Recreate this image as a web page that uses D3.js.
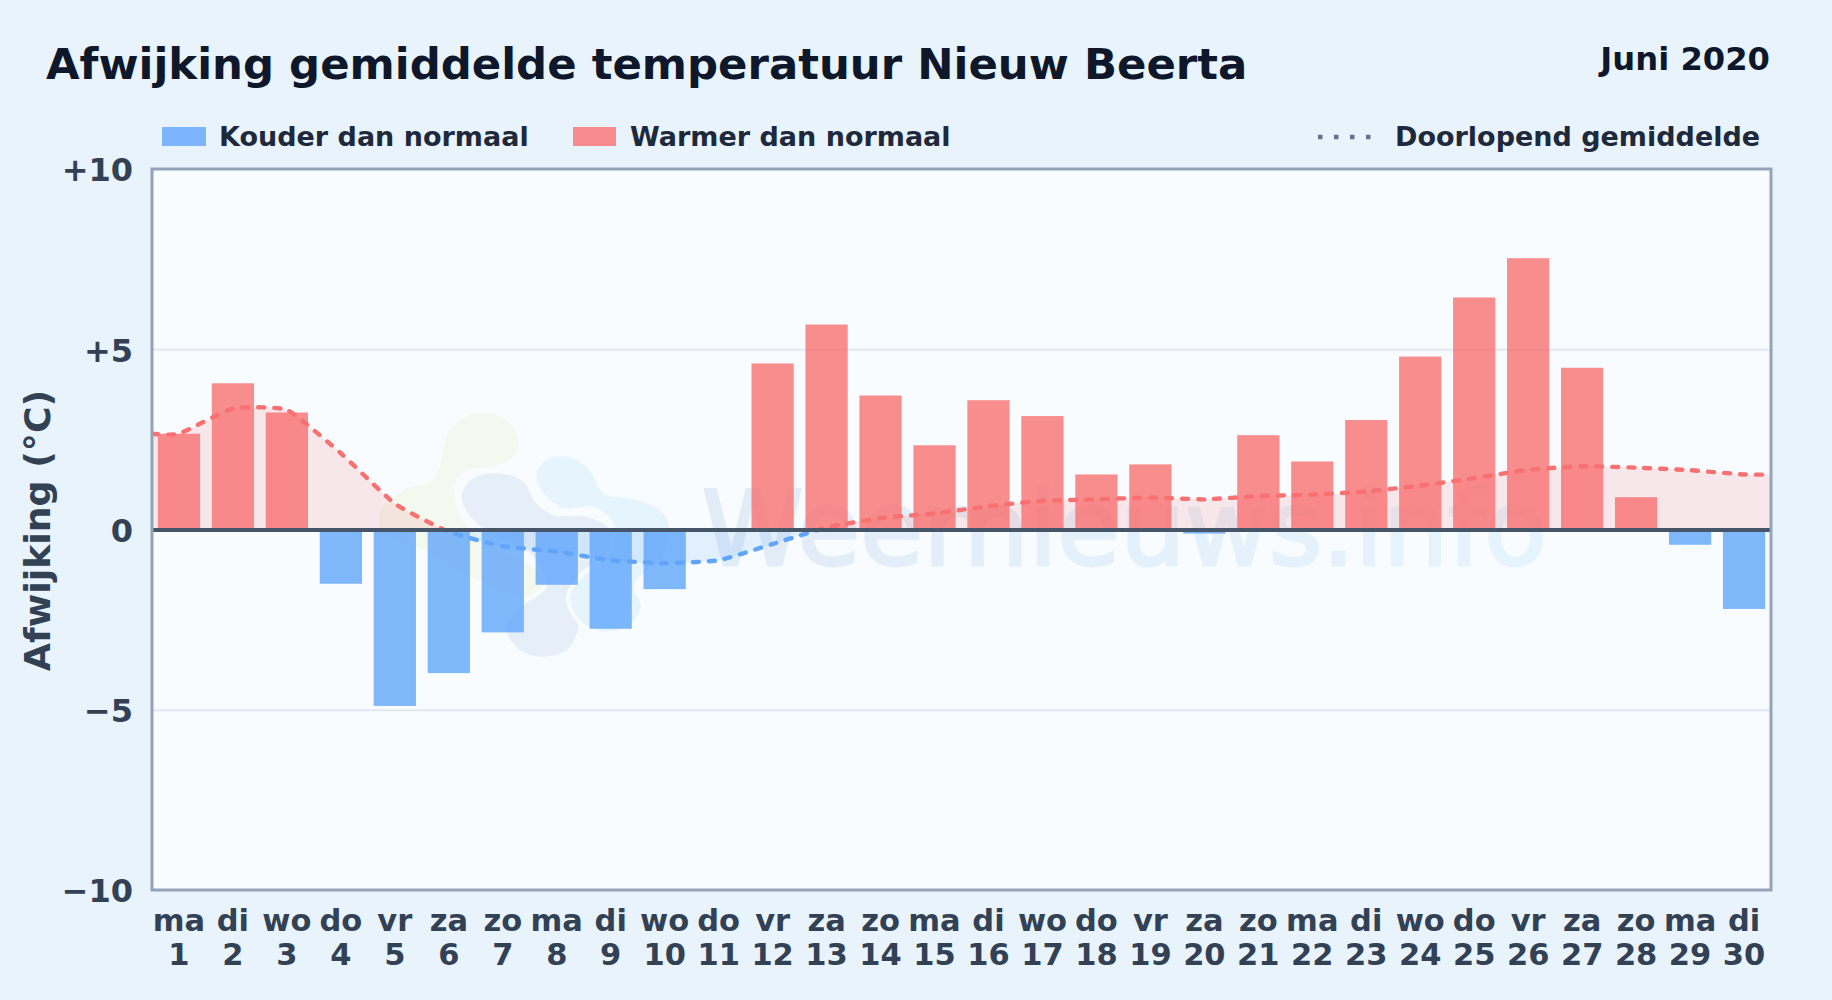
<!DOCTYPE html>
<html><head><meta charset="utf-8">
<script src="https://cdn.jsdelivr.net/npm/d3@7"></script>
<style>
html,body{margin:0;padding:0;background:#e8f3fc}
svg{display:block}
text{font-family:"DejaVu Sans",sans-serif;font-weight:700}
</style></head><body>
<svg id="c" width="1832" height="1000"></svg>
<script>
const weekdays=["ma","di","wo","do","vr","za","zo","ma","di","wo","do","vr","za","zo","ma","di","wo","do","vr","za","zo","ma","di","wo","do","vr","za","zo","ma","di"];
const days=[1,2,3,4,5,6,7,8,9,10,11,12,13,14,15,16,17,18,19,20,21,22,23,24,25,26,27,28,29,30];
const deviations=[2.67,4.07,3.26,-1.49,-4.88,-3.97,-2.84,-1.52,-2.74,-1.64,0,4.62,5.70,3.73,2.35,3.60,3.16,1.54,1.82,-0.10,2.63,1.90,3.05,4.81,6.45,7.54,4.50,0.91,-0.41,-2.19];
const runningMean=[2.67,3.37,3.33,2.13,0.73,-0.05,-0.45,-0.60,-0.84,-0.92,-0.84,-0.39,0.07,0.33,0.46,0.66,0.81,0.85,0.90,0.85,0.94,0.98,1.07,1.23,1.44,1.67,1.77,1.73,1.66,1.54];
const yTicks=[10,5,0,-5,-10];
const yTickLabels=["+10","+5","0","\u22125","\u221210"];
const gridValues=[5,-5];
const titleText="Afwijking gemiddelde temperatuur Nieuw Beerta";
const periodText="Juni 2020";
const yLabel="Afwijking (\u00b0C)";
const legendCold="Kouder dan normaal";
const legendWarm="Warmer dan normaal";
const legendMean="Doorlopend gemiddelde";

const C={bg:"#e8f3fc",plot:"#f8fcff",border:"#94a3b8",grid:"#e2e8f0",zero:"#475569",red:"#f87171",blue:"#60a5fa",tick:"#334155",legend:"#1e293b",title:"#0f172a",dots:"#64748b"};
const L=152,R=1771,T=169,B=890;
const svg=d3.select("#c");
svg.append("rect").attr("width",1832).attr("height",1000).attr("fill",C.bg);

const x=d3.scaleBand().domain(days).range([L,R]).paddingInner(.217).paddingOuter(.108);
const y=d3.scaleLinear().domain([-10,10]).range([B+.5,T+.5]);
const cx=d=>x(d)+x.bandwidth()/2;

// plot background
svg.append("rect").attr("x",L).attr("y",T).attr("width",R-L).attr("height",B-T).attr("fill",C.plot);

// watermark
const defs=svg.append("defs");
const grad=defs.append("linearGradient").attr("id","wm").attr("gradientUnits","userSpaceOnUse").attr("x1",702).attr("x2",1547).attr("y1",0).attr("y2",0);
grad.append("stop").attr("offset",0).attr("stop-color","#e2ecf6");
grad.append("stop").attr("offset",1).attr("stop-color","#e6f4fe");
const blobGreen=[[265,130],[310,85],[380,68],[445,95],[475,160],[455,205],[390,232],[320,240],[285,280],[300,380],[400,470],[500,520],[590,590],[500,625],[400,590],[280,530],[170,470],[70,430],[60,370],[130,300],[220,270]];
const blobGray=[[305,320],[340,265],[420,250],[490,275],[525,335],[580,375],[680,380],[750,420],[735,490],[650,560],[635,620],[655,710],[620,780],[545,800],[480,780],[440,720],[470,660],[560,590],[520,500],[420,440],[340,390]];
const blobLight=[[530,250],[570,205],[640,205],[695,250],[730,310],[830,330],[900,360],[930,420],[900,510],[840,560],[820,590],[842,650],[800,710],[720,722],[660,690],[630,620],[665,565],[760,480],[760,400],[700,350],[620,355],[560,320]];
const blob=d3.line().curve(d3.curveCatmullRomClosed);
const wm=svg.append("g").attr("transform","translate(360,390) scale(.3333)");
[[blobGreen,"#f3f9ee"],[blobGray,"#e6eff8"],[blobLight,"#e6f4fe"]].forEach(([p,c])=>{
  wm.append("path").attr("d",blob(p)).attr("fill",c).attr("stroke",C.plot).attr("stroke-width",24).attr("paint-order","stroke");
});
svg.append("text").attr("x",702).attr("y",565).attr("font-size",104).style("font-weight",400)
  .attr("textLength",845).attr("lengthAdjust","spacingAndGlyphs").attr("fill","url(#wm)").attr("stroke","url(#wm)").attr("stroke-width",3).text("Weernieuws.info");

// gridlines
svg.append("g").selectAll("line").data(gridValues).join("line")
  .attr("x1",L).attr("x2",R).attr("y1",d=>y(d)).attr("y2",d=>y(d)).attr("stroke",C.grid).attr("stroke-width",2);

// running mean area and clip
defs.append("clipPath").attr("id","above").append("rect").attr("x",L).attr("y",T).attr("width",R-L).attr("height",y(0)-T);
defs.append("clipPath").attr("id","below").append("rect").attr("x",L).attr("y",y(0)).attr("width",R-L).attr("height",B-y(0));
const meanPts=[[L,runningMean[0]],...days.map((d,i)=>[cx(d),runningMean[i]]),[R,runningMean[runningMean.length-1]]];
const meanCurve=d3.curveCardinal.tension(.55);
const area=d3.area().x(d=>d[0]).y0(y(0)).y1(d=>y(d[1])).curve(meanCurve);
const line=d3.line().x(d=>d[0]).y(d=>y(d[1])).curve(meanCurve);
svg.append("path").attr("d",area(meanPts)).attr("fill",C.red).attr("fill-opacity",.15).attr("clip-path","url(#above)");
svg.append("path").attr("d",area(meanPts)).attr("fill",C.blue).attr("fill-opacity",.15).attr("clip-path","url(#below)");

// bars
svg.append("g").selectAll("rect").data(days.map((d,i)=>({d,v:deviations[i]}))).join("rect")
  .attr("x",d=>x(d.d)).attr("width",x.bandwidth())
  .attr("y",d=>y(Math.max(0,d.v))).attr("height",d=>Math.abs(y(d.v)-y(0)))
  .attr("fill",d=>d.v>=0?C.red:C.blue).attr("fill-opacity",.8);

// running mean line
[["above",C.red],["below",C.blue]].forEach(([id,c])=>{
  svg.append("path").attr("d",line(meanPts)).attr("fill","none").attr("stroke",c).attr("stroke-width",4.4)
    .attr("stroke-dasharray","6 10").attr("stroke-linecap","round").attr("clip-path",`url(#${id})`);
});

// zero line and frame
svg.append("line").attr("x1",L).attr("x2",R).attr("y1",y(0)).attr("y2",y(0)).attr("stroke",C.zero).attr("stroke-width",4);
svg.append("rect").attr("x",L).attr("y",T).attr("width",R-L).attr("height",B-T).attr("fill","none").attr("stroke",C.border).attr("stroke-width",3);

// axes
const yAxis=svg.append("g").attr("transform",`translate(${L},1)`)
  .call(d3.axisLeft(y).tickValues(yTicks).tickSize(0).tickPadding(19).tickFormat((d,i)=>yTickLabels[i]));
yAxis.select(".domain").remove();
yAxis.selectAll("text").attr("font-size",32).attr("fill",C.tick).style("font-family",'"DejaVu Sans"').style("font-weight",700);
const xAxis=svg.append("g").attr("transform",`translate(0,${B})`)
  .call(d3.axisBottom(x).tickSize(0).tickFormat(()=>""));
xAxis.select(".domain").remove();
xAxis.selectAll("text").each(function(d,i){
  const t=d3.select(this).attr("y",0).attr("dy",null).attr("font-size",30.5).attr("fill",C.tick).style("font-family",'"DejaVu Sans"').style("font-weight",700);
  t.append("tspan").attr("x",0).attr("y",41).text(weekdays[i]);
  t.append("tspan").attr("x",0).attr("y",75).text(d);
});

// titles
svg.append("text").attr("x",46).attr("y",79).attr("font-size",43.4).attr("fill",C.title).text(titleText);
svg.append("text").attr("x",1770).attr("y",70).attr("font-size",32.2).attr("text-anchor","end").attr("fill",C.title).text(periodText);
svg.append("text").attr("transform","translate(50,530.5) rotate(-90)").attr("font-size",36.3).attr("text-anchor","middle").attr("fill",C.tick).text(yLabel);

// legend
const lg=svg.append("g");
lg.append("rect").attr("x",162).attr("y",127).attr("width",44).attr("height",19).attr("fill",C.blue).attr("fill-opacity",.8);
lg.append("text").attr("x",219).attr("y",146).attr("font-size",27).attr("fill",C.legend).text(legendCold);
lg.append("rect").attr("x",573).attr("y",127).attr("width",43).attr("height",19).attr("fill",C.red).attr("fill-opacity",.8);
lg.append("text").attr("x",630).attr("y",146).attr("font-size",27).attr("fill",C.legend).text(legendWarm);
lg.append("line").attr("x1",1318).attr("x2",1374).attr("y1",137).attr("y2",137).attr("stroke",C.dots).attr("stroke-width",4.5).attr("stroke-dasharray","4.5 11.5");
lg.append("text").attr("x",1395).attr("y",146).attr("font-size",27).attr("fill",C.legend).text(legendMean);
</script>
</body></html>
